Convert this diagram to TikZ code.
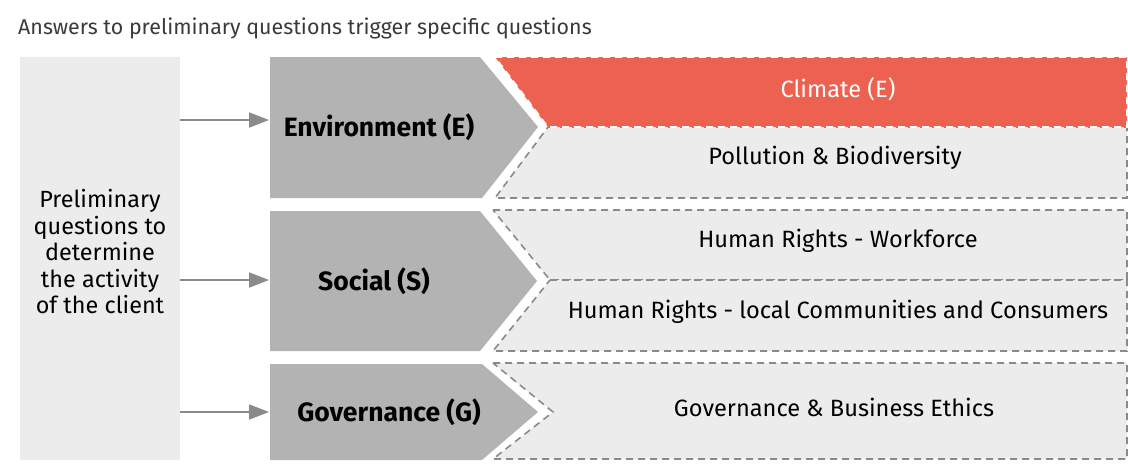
\documentclass[tikz,border=0pt]{standalone}
\usepackage{fontspec}
\setmainfont{Fira Sans}
\usetikzlibrary{arrows.meta}
\definecolor{lightpanel}{HTML}{ECECEC}
\definecolor{chevgray}{HTML}{B3B3B3}
\definecolor{climred}{HTML}{EC6150}
\definecolor{dashgray}{HTML}{8A8A8A}
\definecolor{titlegray}{HTML}{3A3A3A}
\tikzset{
  panel/.style={fill=lightpanel, draw=dashgray, line width=1.6pt, dash pattern=on 7pt off 5pt},
  redpanel/.style={fill=climred, draw=white, line width=1.6pt, dash pattern=on 7pt off 5pt},
  chevron/.style={fill=chevgray, draw=none},
  chevlabel/.style={font=\fontsize{26.5}{30}\selectfont\bfseries, text=black},
  paneltext/.style={font=\fontsize{23.6}{28}\selectfont, text=black},
  whitetext/.style={font=\fontsize{23.6}{28}\selectfont, text=white},
  flowarrow/.style={draw=dashgray, line width=1.8pt, -{Triangle[length=20pt,width=15pt]}},
}
\begin{document}
\begin{tikzpicture}[x=1pt,y=-1pt]
\useasboundingbox (0,0) rectangle (1128,472);
% title
\node[anchor=west, text=titlegray, font=\fontsize{21.4}{24}\selectfont, inner sep=0pt] (title) at (18,28) {Answers to preliminary questions trigger specific questions};
% left box
\node[fill=lightpanel, minimum width=160pt, minimum height=403pt, inner sep=0pt, anchor=north west] (pre) at (20,57) {};
\node[align=center, font=\fontsize{23.4}{26.5}\selectfont] (pretext) at (100,252)
  {Preliminary\\questions to\\determine\\the activity\\of the client};
% chevrons
\path[chevron] (270,57) -- (480,57) -- (538,127) -- (482,198) -- (270,198) -- cycle;
\path[chevron] (270,211) -- (480,211) -- (537,281) -- (480,351) -- (270,351) -- cycle;
\path[chevron] (270,364) -- (482,364) -- (538,412) -- (482,460) -- (270,460) -- cycle;
\coordinate (envL) at (269,120);
\coordinate (socL) at (269,280);
\coordinate (govL) at (269,412);
\node[chevlabel] (env) at (379,127) {Environment (E)};
\node[chevlabel] (soc) at (374,281) {Social (S)};
\node[chevlabel] (gov) at (389,412) {Governance (G)};
% panels
\path[panel] (548,127) -- (1127,127) -- (1127,198) -- (495,198) -- cycle;
\path[redpanel] (495,57) -- (1127,57) -- (1127,127) -- (548,127) -- cycle;
\path[panel] (493,210) -- (1127,210) -- (1127,280) -- (550,280) -- cycle;
\path[panel] (550,280) -- (1127,280) -- (1127,351) -- (493,351) -- cycle;
\path[panel] (493,363) -- (1127,363) -- (1127,459) -- (493,459) -- (553,412) -- cycle;
\node[whitetext] (clim) at (838,89) {Climate (E)};
\node[paneltext] (poll) at (835,158) {Pollution \& Biodiversity};
\node[paneltext] (hrw) at (838,241) {Human Rights - Workforce};
\node[paneltext] (hrl) at (838,312) {Human Rights - local Communities and Consumers};
\node[paneltext] (gbe) at (834,407) {Governance \& Business Ethics};
% arrows
\draw[flowarrow] (pre.east |- envL) -- (envL);
\draw[flowarrow] (pre.east |- socL) -- (socL);
\draw[flowarrow] (pre.east |- govL) -- (govL);
\end{tikzpicture}
\end{document}
